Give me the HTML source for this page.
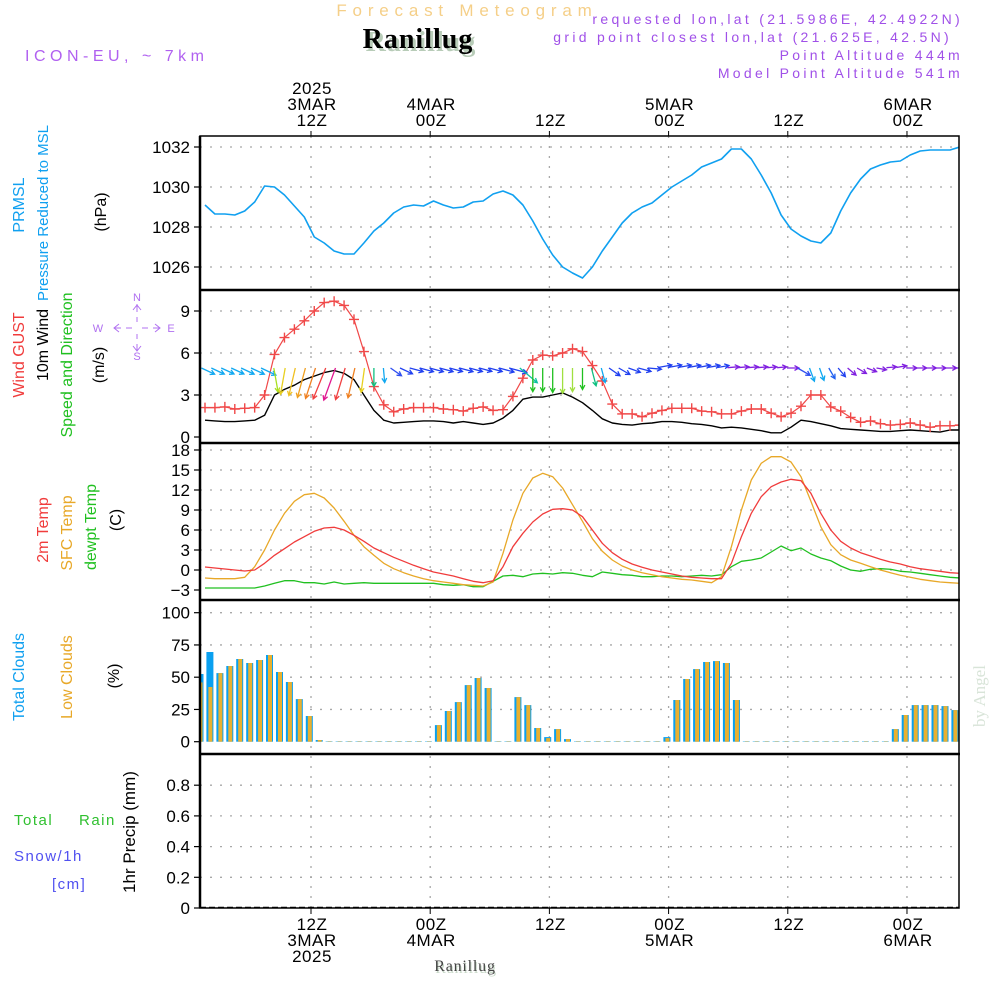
<!DOCTYPE html>
<html><head><meta charset="utf-8"><title>Forecast Meteogram Ranillug</title>
<style>
html,body{margin:0;padding:0;background:#fff;}
svg{display:block;}
.t{font-family:"Liberation Sans",sans-serif;}
.s{font-family:"Liberation Serif",serif;}
</style></head>
<body>
<svg id="chart" width="1000" height="1000" viewBox="0 0 1000 1000" xmlns="http://www.w3.org/2000/svg">
<rect x="0" y="0" width="1000" height="1000" fill="#fff"/>
<g id="grid"></g>
<g id="marks"></g>
<g id="frames"></g>
<g id="labels"></g>
</svg>
<script>
// ---------- data ----------
const pressure = [1029.1,1028.65,1028.65,1028.6,1028.8,1029.25,1030.05,1030.0,1029.6,1029.05,1028.5,1027.5,1027.2,1026.8,1026.65,1026.65,1027.2,1027.8,1028.2,1028.7,1029.0,1029.1,1029.05,1029.3,1029.1,1028.95,1029.0,1029.25,1029.3,1029.65,1029.8,1029.6,1029.1,1028.3,1027.4,1026.6,1026.0,1025.7,1025.45,1026.0,1026.8,1027.5,1028.2,1028.7,1029.0,1029.2,1029.6,1030.0,1030.3,1030.6,1031.0,1031.2,1031.4,1031.9,1031.9,1031.4,1030.6,1029.7,1028.6,1027.9,1027.55,1027.3,1027.2,1027.7,1028.8,1029.7,1030.4,1030.9,1031.1,1031.25,1031.3,1031.6,1031.8,1031.85,1031.85,1031.85,1032.0];
const gust = [2.1,2.1,2.15,2.0,2.05,2.1,3.0,5.9,7.1,7.7,8.3,9.0,9.6,9.7,9.4,8.4,6.1,3.6,2.3,1.8,2.0,2.1,2.1,2.1,2.0,1.95,1.85,2.05,2.15,1.9,1.95,2.9,4.2,5.5,5.85,5.8,6.0,6.3,6.1,5.1,4.0,2.35,1.65,1.65,1.45,1.7,1.9,2.05,2.05,2.05,1.85,1.8,1.65,1.65,1.85,2.0,2.0,1.7,1.45,1.7,2.2,3.0,3.0,2.15,1.85,1.4,1.05,1.15,0.95,0.85,0.9,1.0,0.85,0.7,0.8,0.8,0.85];
const windSpeed = [1.2,1.15,1.1,1.1,1.15,1.2,1.55,3.0,3.4,3.7,4.1,4.35,4.6,4.75,4.55,4.1,3.0,1.9,1.2,1.0,1.05,1.1,1.15,1.15,1.1,1.0,1.1,1.0,0.9,1.0,1.35,1.9,2.7,2.85,2.85,3.0,3.15,2.85,2.45,1.9,1.3,1.0,0.9,0.85,0.95,1.0,1.1,1.1,1.05,0.95,0.9,0.8,0.65,0.7,0.65,0.55,0.45,0.3,0.3,0.7,1.2,1.1,0.95,0.8,0.6,0.55,0.5,0.45,0.4,0.4,0.45,0.5,0.45,0.4,0.35,0.5,0.5];
// arrow pointing angle on screen (deg, 0 = east, 90 = south)
const windDir = [25,25,25,25,25,25,25,80,100,103,105,108,112,110,107,103,98,90,85,35,25,15,15,15,15,15,15,15,15,15,15,15,40,90,90,90,90,90,90,75,75,35,30,20,15,5,-10,-10,-10,-10,-10,-10,-10,-5,-5,-5,-5,-5,-5,0,30,70,70,60,50,40,30,20,10,-5,-10,0,0,0,0,0,0];
const windColor = ["#10a8f0","#10a8f0","#10a8f0","#10a8f0","#10a8f0","#10a8f0","#10a8f0","#a8e020","#e8d020","#f0c020","#f0a020","#f08020","#f04040","#e01890","#f04040","#f08020","#e8d020","#10c080","#10a8f0","#3050f0","#2040f0","#2040f0","#2040f0","#2040f0","#2040f0","#2040f0","#2040f0","#2040f0","#2040f0","#2040f0","#2040f0","#2040f0","#10c0a0","#20c020","#20c020","#20c020","#a0e040","#a0e040","#20c020","#10c080","#10a8f0","#2040f0","#2040f0","#2040f0","#2040f0","#2040f0","#2040f0","#2040f0","#2040f0","#2040f0","#2040f0","#2040f0","#2040f0","#8020e0","#8020e0","#8020e0","#8020e0","#8020e0","#8020e0","#8020e0","#3050f0","#10a8f0","#10a8f0","#2060f0","#2040f0","#8020e0","#8020e0","#8020e0","#8020e0","#8020e0","#8020e0","#8020e0","#8020e0","#8020e0","#8020e0","#8020e0","#8020e0"];
const temp2m = [0.45,0.3,0.15,0.0,-0.15,0.0,1.0,2.2,3.2,4.2,5.0,5.8,6.3,6.4,6.0,5.2,4.3,3.3,2.6,1.9,1.3,0.7,0.2,-0.3,-0.6,-0.9,-1.3,-1.7,-1.9,-1.6,0.5,3.5,5.5,7.2,8.4,9.1,9.2,9.0,8.0,6.0,4.0,2.6,1.6,0.9,0.4,0.0,-0.3,-0.6,-0.9,-1.1,-1.2,-1.3,-1.3,1.0,5.0,8.5,11.0,12.5,13.2,13.6,13.4,11.5,8.5,6.0,4.3,3.3,2.6,2.1,1.6,1.2,0.9,0.5,0.2,0.0,-0.2,-0.4,-0.5];
const tempSfc = [-1.2,-1.3,-1.3,-1.3,-1.1,0.5,3.0,6.0,8.5,10.3,11.3,11.5,10.8,9.3,7.3,5.2,3.5,2.2,1.0,0.2,-0.4,-0.9,-1.3,-1.6,-1.8,-2.0,-2.2,-2.3,-2.4,-1.8,2.5,7.5,11.5,13.8,14.5,14.0,12.3,9.8,7.3,4.7,2.8,1.5,0.6,0.0,-0.4,-0.7,-1.0,-1.2,-1.4,-1.5,-1.7,-1.9,-1.0,3.5,9.0,13.5,16.0,17.0,17.0,16.2,14.0,10.3,6.5,3.8,2.3,1.5,1.0,0.5,0.0,-0.4,-0.8,-1.1,-1.4,-1.6,-1.8,-1.9,-2.0];
const dewpt = [-2.7,-2.7,-2.7,-2.7,-2.7,-2.7,-2.4,-2.0,-1.6,-1.6,-1.9,-1.9,-2.1,-1.8,-2.1,-2.0,-1.9,-2.0,-2.0,-2.0,-2.0,-2.0,-2.0,-2.0,-2.2,-2.3,-2.2,-2.5,-2.5,-1.7,-0.9,-0.8,-1.0,-0.6,-0.5,-0.6,-0.4,-0.5,-0.8,-1.0,-0.3,-0.5,-0.7,-0.8,-1.0,-1.0,-0.9,-0.9,-1.0,-0.9,-0.8,-0.9,-0.7,0.5,1.3,1.5,1.8,2.7,3.6,2.9,3.3,2.4,1.8,1.4,0.6,0.0,-0.2,0.1,0.2,0.1,-0.2,-0.3,-0.5,-0.7,-0.9,-1.1,-1.2];
const totalClouds = [52.5,69.5,53.2,58.7,64.1,61,63.3,67.2,54,46.3,33,19.9,1.3,0.3,0.3,0.3,0.3,0.3,0.3,0.3,0.3,0.3,0.3,0.3,12.9,23.8,30.7,43.9,49.4,41.6,0.3,0.3,34.6,28.4,10.6,3.6,9.8,2,0.3,0.3,0.3,0.3,0.3,0.3,0.3,0.3,0.3,3.6,32.3,48.6,56.3,61.8,62.5,61,32.3,0.3,0.3,0.3,0.3,0.3,0.3,0.3,0.3,0.3,0.3,0.3,0.3,0.3,0.3,0.3,9.8,20.7,28.4,28.4,28.4,27.6,24.5];
const lowClouds = [46,42.4,53.2,58.7,64.1,61,63.3,67.2,54,46.3,33,19.9,1.3,0.3,0.3,0.3,0.3,0.3,0.3,0.3,0.3,0.3,0.3,0.3,12.9,23.8,30.7,43.9,49.4,41.6,0.3,0.3,34.6,28.4,10.6,2.8,9.8,2,0.3,0.3,0.3,0.3,0.3,0.3,0.3,0.3,0.3,2.8,32.3,48.6,56.3,61.8,62.5,61,32.3,0.3,0.3,0.3,0.3,0.3,0.3,0.3,0.3,0.3,0.3,0.3,0.3,0.3,0.3,0.3,9.8,20.7,28.4,28.4,28.4,27.6,24.5];
const precip = [];
const pTicks = [1026,1028,1030,1032];
const wTicks = [0,3,6,9];
const tTicks = [-3,0,3,6,9,12,15,18];
const cTicks = [0,25,50,75,100];
const rTicks = [0,0.2,0.4,0.6,0.8];
const rTickLabels = ["0","0.2","0.4","0.6","0.8"];
const timeHours = [12,24,36,48,60,72];
const topLabels = [["2025","3MAR","12Z"],["4MAR","00Z"],["12Z"],["5MAR","00Z"],["12Z"],["6MAR","00Z"]];
const botLabels = [["12Z","3MAR","2025"],["00Z","4MAR"],["12Z"],["00Z","5MAR"],["12Z"],["00Z","6MAR"]];

// ---------- axes ----------
const X0 = 200, X1 = 959;
const hx = h => 311 + (h - 12) * 9.933;
const ix = i => 205 + i * 9.933;
const cx = i => 200 + i * 9.933;
const yP = v => 147 + (1032 - v) * 20;
const yW = v => 437 - v * 14;
const yT = v => 570 - v * 6.667;
const yC = v => 741.7 - v * 1.29;
const yR = v => 908 - v * 153.5;
const panels = [[136,290],[290,443],[443,600],[600,754],[754,908]];

const NS = "http://www.w3.org/2000/svg";
function mk(tag, attrs, parent, text){
  const e = document.createElementNS(NS, tag);
  for (const k in attrs) e.setAttribute(k, attrs[k]);
  if (text !== undefined) e.textContent = text;
  parent.appendChild(e);
  return e;
}
const G = document.getElementById('grid');
const M = document.getElementById('marks');
const F = document.getElementById('frames');
const L = document.getElementById('labels');

const defs = mk('defs', {}, document.getElementById('chart'));
const cp = mk('clipPath', {id:'plotclip'}, defs);
mk('rect', {x:X0, y:136, width:X1-X0, height:772}, cp);
M.setAttribute('clip-path','url(#plotclip)');

timeHours.forEach(h => {
  const g = mk('line', {x1:hx(h), x2:hx(h), y1:136, y2:908, stroke:'#a8a8a8', 'stroke-width':1.3, 'stroke-dasharray':'2,8'}, G);
  
  
  const t1 = mk('line', {x1:hx(h), x2:hx(h), y1:131, y2:136, stroke:'#000', 'stroke-width':1}, F);
  
  
  const t2 = mk('line', {x1:hx(h), x2:hx(h), y1:908, y2:914, stroke:'#000', 'stroke-width':1}, F);
  
  
});

function yAxis(ticks, fy, labels, name){
  ticks.forEach((v, k) => {
    const y = fy(v);
    if (v !== ticks[0] || name === 'pressure') {
      const g = mk('line', {x1:X0, x2:X1, y1:y, y2:y, stroke:'#a8a8a8', 'stroke-width':1.3, 'stroke-dasharray':'2,8'}, G);
      
      
    }
    const tk = mk('line', {x1:194, x2:X0, y1:y, y2:y, stroke:'#000', 'stroke-width':1.2}, F);
    
    
    const tx = mk('text', {x:190, y:y+6, 'text-anchor':'end', 'font-size':17, fill:'#000', class:'t'}, L, labels ? labels[k] : String(v));
    
    
  });
}
yAxis(pTicks, yP, null, 'pressure');
yAxis(wTicks, yW, null, 'wind');
yAxis(tTicks, yT, tTicks.map(v => v < 0 ? '\u2212' + Math.abs(v) : String(v)), 'temp');
yAxis(cTicks, yC, null, 'cloud');
yAxis(rTicks, yR, rTickLabels, 'precip');

function poly(vals, fy, color, name, w){
  const pts = vals.map((v,i) => ix(i).toFixed(1) + ',' + fy(v).toFixed(1)).join(' ');
  const p = mk('polyline', {points:pts, fill:'none', stroke:color, 'stroke-width':w||1.4, 'stroke-linejoin':'round'}, M);
  
  
}
poly(pressure, yP, '#10a0f0', 'pressure-line', 1.6);
poly(windSpeed, yW, '#000', 'wind-speed-line', 1.4);
poly(gust, yW, '#f04848', 'wind-gust-line', 1.2);
gust.forEach((v,i) => {
  const x = ix(i), y = yW(v);
  const m = mk('path', {d:`M${x-5},${y}H${x+5}M${x},${y-5}V${y+5}`, stroke:'#f04848', 'stroke-width':1.4, fill:'none'}, M);
  
  
});
windDir.forEach((a,i) => {
  const r = a * Math.PI / 180, c = Math.cos(r), s = Math.sin(r);
  const len = 8 + 5.5 * windSpeed[i];
  const x0 = ix(i) - 4 * c, y0 = 368 - 3 * Math.max(0, -s);
  const x1 = x0 + len * c, y1 = y0 + len * s;
  const hl = 5, ha = 0.5;
  const ax = x1 - hl * Math.cos(r - ha), ay = y1 - hl * Math.sin(r - ha);
  const bx = x1 - hl * Math.cos(r + ha), by = y1 - hl * Math.sin(r + ha);
  const p = mk('path', {d:`M${x0.toFixed(1)},${y0.toFixed(1)}L${x1.toFixed(1)},${y1.toFixed(1)}M${ax.toFixed(1)},${ay.toFixed(1)}L${x1.toFixed(1)},${y1.toFixed(1)}L${bx.toFixed(1)},${by.toFixed(1)}`, stroke:windColor[i], 'stroke-width':1.3, fill:'none'}, M);
  
  
});
poly(dewpt, yT, '#20c020', 'dewpoint-line', 1.3);
poly(tempSfc, yT, '#e8a828', 'sfc-temp-line', 1.3);
poly(temp2m, yT, '#f03c3c', 'temp-2m-line', 1.3);
totalClouds.forEach((v,i) => {
  const x = cx(i);
  const b = mk('rect', {x:(x-3.5).toFixed(1), y:yC(v).toFixed(1), width:7, height:(741.7 - yC(v)).toFixed(1), fill:'#0aa0f0'}, M);
  
  
  const lv = lowClouds[i];
  const o = mk('rect', {x:(x-1.5).toFixed(1), y:yC(lv).toFixed(1), width:4, height:(741.7 - yC(lv)).toFixed(1), fill:'#e8b030'}, M);
  
  
});
const pl = mk('line', {x1:X0, x2:X1, y1:907.5, y2:907.5, stroke:'#000', 'stroke-width':1.5, 'stroke-dasharray':'6,3'}, M);


precip.forEach((v,i) => {
  const b = mk('rect', {x:cx(i)-3, y:yR(v), width:6, height:908-yR(v), fill:'#20c020'}, M);
  
  
});

panels.forEach((p,k) => {
  const r = mk('rect', {x:X0, y:p[0], width:X1-X0, height:p[1]-p[0], fill:'none', stroke:'#000', 'stroke-width':1.5}, F);
  
  
});
[290,443,600,754].forEach(y => {
  const l = mk('line', {x1:X0-1, x2:X1+1, y1:y, y2:y, stroke:'#000', 'stroke-width':2.5}, F);
  
  
});
const la = mk('line', {x1:X0, x2:X0, y1:136, y2:908, stroke:'#000', 'stroke-width':2.5}, F);



timeHours.forEach((h,k) => {
  const tl = topLabels[k];
  tl.forEach((s,j) => {
    const t = mk('text', {x:hx(h)+1, y:126 - (tl.length-1-j)*16, 'text-anchor':'middle', 'font-size':17, fill:'#000', class:'t', 'letter-spacing':'0.5'}, L, s);
    
    
  });
  botLabels[k].forEach((s,j) => {
    const t = mk('text', {x:hx(h)+1, y:930 + j*16, 'text-anchor':'middle', 'font-size':17, fill:'#000', class:'t', 'letter-spacing':'0.5'}, L, s);
    
    
  });
});

function vlab(x, y, s, color, name, size){
  const t = mk('text', {x:x, y:y, transform:`rotate(-90 ${x} ${y})`, 'text-anchor':'middle', 'font-size':size||16, fill:color, class:'t'}, L, s);
  
  
}
vlab(24, 205, 'PRMSL', '#10a0f0', 'prmsl-label');
vlab(48, 213, 'Pressure Reduced to MSL', '#10a0f0', 'pressure-title', 15);
vlab(106, 212, '(hPa)', '#000', 'pressure-unit');
vlab(24, 355, 'Wind GUST', '#f03c3c', 'gust-title');
vlab(48, 345, '10m Wind', '#000', 'wind-title');
vlab(72, 365, 'Speed and Direction', '#20c020', 'wind-subtitle');
vlab(104, 365, '(m/s)', '#000', 'wind-unit');
vlab(48, 530, '2m Temp', '#f03c3c', 'temp-2m-title');
vlab(72, 533, 'SFC Temp', '#e8a828', 'sfc-temp-title');
vlab(96, 527, 'dewpt Temp', '#20c020', 'dewpt-title');
vlab(121, 520, '(C)', '#000', 'temp-unit');
vlab(24, 677, 'Total Clouds', '#10a0f0', 'total-clouds-title');
vlab(72, 677, 'Low Clouds', '#e8a828', 'low-clouds-title');
vlab(119, 676, '(%)', '#000', 'cloud-unit');
vlab(135, 832, '1hr Precip (mm)', '#000', 'precip-title', 17);

function htext(x, y, s, attrs, name, cls){
  const a = Object.assign({x:x, y:y, class:cls||'t'}, attrs);
  const t = mk('text', a, L, s);
  
  
  return t;
}
htext(14, 825, 'Total', {'font-size':15, fill:'#30c030', 'letter-spacing':'1.5'}, 'total-precip-legend');
htext(79, 825, 'Rain', {'font-size':15, fill:'#30c030', 'letter-spacing':'1.5'}, 'rain-legend');
htext(14, 861, 'Snow/1h', {'font-size':15, fill:'#5050f0', 'letter-spacing':'1.5'}, 'snow-legend');
htext(52, 889, '[cm]', {'font-size':15, fill:'#5050f0', 'letter-spacing':'1.5'}, 'snow-unit');

const cg = mk('g', {stroke:'#b070f0', 'stroke-width':1, fill:'none'}, L);


mk('path', {d:'M137,304V312M137,317V322M137,334V339M137,344V351M114,328H121M126,328H132M142,328H148M153,328H160M133,310L137,305L141,310M133,346L137,351L141,346M119,324L114,328L119,332M155,324L160,328L155,332'}, cg);
htext(137, 301, 'N', {'font-size':11, fill:'#b070f0', 'text-anchor':'middle'}, 'compass-n');
htext(137, 360, 'S', {'font-size':11, fill:'#b070f0', 'text-anchor':'middle'}, 'compass-s');
htext(98, 332, 'W', {'font-size':11, fill:'#b070f0', 'text-anchor':'middle'}, 'compass-w');
htext(171, 332, 'E', {'font-size':11, fill:'#b070f0', 'text-anchor':'middle'}, 'compass-e');

htext(467, 16, 'Forecast Meteogram', {'font-size':17, fill:'#f5cf88', 'text-anchor':'middle', 'letter-spacing':'5.8'}, 'forecast-meteogram-title');
htext(421, 51, 'Ranillug', {'font-size':28, 'font-weight':'bold', fill:'#b8ccb8', 'text-anchor':'middle', 'letter-spacing':'1'}, 'station-title-shadow', 's');
htext(418, 48, 'Ranillug', {'font-size':28, 'font-weight':'bold', fill:'#000', 'text-anchor':'middle', 'letter-spacing':'1'}, 'station-title', 's');
htext(25, 61, 'ICON-EU,  ~  7km', {'font-size':16, fill:'#b060f0', 'letter-spacing':'4.5'}, 'model-label');
htext(963, 24, 'requested lon,lat (21.5986E, 42.4922N)', {'font-size':14, fill:'#a050e8', 'text-anchor':'end', 'letter-spacing':'3.3'}, 'requested-location');
htext(952, 42, 'grid point closest lon,lat (21.625E, 42.5N)', {'font-size':14, fill:'#a050e8', 'text-anchor':'end', 'letter-spacing':'3.3'}, 'grid-point-location');
htext(963, 60, 'Point Altitude 444m', {'font-size':14, fill:'#a050e8', 'text-anchor':'end', 'letter-spacing':'3.3'}, 'point-altitude');
htext(963, 78, 'Model Point Altitude 541m', {'font-size':14, fill:'#a050e8', 'text-anchor':'end', 'letter-spacing':'3.3'}, 'model-point-altitude');
htext(466, 973, 'Ranillug', {'font-size':16, fill:'#c8d8c8', 'text-anchor':'middle', 'letter-spacing':'0.8'}, 'footer-station-shadow', 's');
htext(465, 971, 'Ranillug', {'font-size':16, fill:'#444', 'text-anchor':'middle', 'letter-spacing':'0.8'}, 'footer-station', 's');
htext(985, 696, 'by Angel', {'font-size':17, fill:'#d8e4d8', 'text-anchor':'middle', transform:'rotate(-90 985 696)'}, 'author-credit', 's');
</script>
</body></html>
